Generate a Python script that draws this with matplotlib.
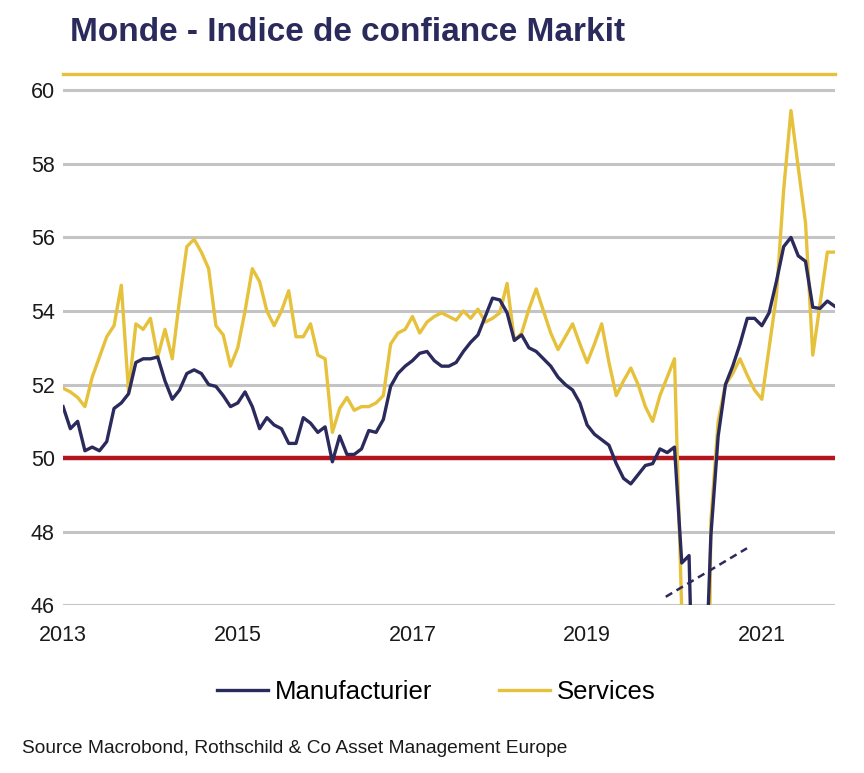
import matplotlib
matplotlib.use("Agg")
import matplotlib.pyplot as plt
import numpy as np

# monthly data, Jan 2013 -> Nov 2021
start_year = 2013

manufacturier = [
    51.4, 50.8, 51.0, 50.2, 50.3, 50.2, 50.45, 51.35, 51.5, 51.75, 52.6, 52.7,
    52.7, 52.75, 52.1, 51.6, 51.85, 52.3, 52.4, 52.3, 52.0, 51.95, 51.7, 51.4,
    51.5, 51.8, 51.4, 50.8, 51.1, 50.9, 50.8, 50.4, 50.4, 51.1, 50.95, 50.7,
    50.85, 49.9, 50.6, 50.1, 50.1, 50.25, 50.75, 50.7, 51.05, 51.95, 52.3, 52.5,
    52.65, 52.85, 52.9, 52.65, 52.5, 52.5, 52.6, 52.9, 53.15, 53.35, 53.85, 54.35,
    54.3, 53.95, 53.2, 53.35, 53.0, 52.9, 52.7, 52.5, 52.2, 52.0, 51.85, 51.5,
    50.9, 50.65, 50.5, 50.35, 49.85, 49.45, 49.3, 49.55, 49.8, 49.85, 50.25, 50.15,
    50.3, 47.15, 47.35, 39.6, 42.4, 47.9, 50.6, 52.0, 52.5, 53.1, 53.8, 53.8,
    53.6, 53.95, 54.8, 55.75, 56.0, 55.5, 55.35, 54.1, 54.07, 54.27, 54.13,
]

services = [
    51.9, 51.8, 51.65, 51.4, 52.2, 52.75, 53.3, 53.6, 54.7, 51.8, 53.65, 53.5,
    53.8, 52.75, 53.5, 52.7, 54.3, 55.75, 55.95, 55.6, 55.15, 53.6, 53.35, 52.5,
    53.0, 54.0, 55.15, 54.8, 54.0, 53.6, 54.0, 54.55, 53.3, 53.3, 53.65, 52.8,
    52.7, 50.7, 51.35, 51.65, 51.3, 51.4, 51.4, 51.5, 51.7, 53.1, 53.4, 53.5,
    53.85, 53.4, 53.7, 53.85, 53.95, 53.85, 53.75, 54.0, 53.8, 54.05, 53.7, 53.8,
    53.95, 54.75, 53.2, 53.4, 54.05, 54.6, 54.0, 53.4, 52.95, 53.3, 53.65, 53.1,
    52.6, 53.1, 53.65, 52.6, 51.7, 52.1, 52.45, 52.0, 51.4, 51.0, 51.7, 52.2,
    52.7, 45.8, 37.0, 24.0, 30.5, 48.3, 51.0, 52.0, 52.3, 52.7, 52.25, 51.85,
    51.6, 53.0, 54.4, 57.3, 59.45, 57.9, 56.4, 52.8, 54.2, 55.6, 55.6,
]

year_ticks = [2013, 2015, 2017, 2019, 2021]
y_ticks = [46, 48, 50, 52, 54, 56, 58, 60]

NAVY = "#2b2a5c"
GOLD = "#e6c13c"
RED = "#b3151c"
GRID = "#c4c4c4"

plt.rcParams["font.family"] = ["Liberation Sans", "DejaVu Sans"]

x = start_year + np.arange(len(manufacturier)) / 12.0

fig = plt.figure(figsize=(8.64, 7.73), dpi=100)
ax = fig.add_axes([0.073, 0.217, 0.893, 0.690])

for v in y_ticks:
    ax.axhline(v, color=GRID, lw=2.2, zorder=1)
ax.axhline(50, color=RED, lw=3.2, zorder=2)

ax.plot(x, manufacturier, color=NAVY, lw=2.4, zorder=4, label="Manufacturier")
ax.plot(x, services, color=GOLD, lw=2.4, zorder=3, label="Services")

# yellow rule above the plot
ax.axhline(60.43, color=GOLD, lw=2.4, zorder=3, clip_on=False)

# axis break marker
ax.plot([2019.9, 2020.83], [46.23, 47.55], color=NAVY, lw=1.8, ls=(0, (3, 2)), zorder=5)

ax.set_xlim(x[0], x[-1])
ax.set_ylim(46, 60.5)
ax.set_yticks(y_ticks)
ax.set_yticklabels([str(v) for v in y_ticks])
ax.set_xticks(year_ticks)
ax.set_xticklabels([str(v) for v in year_ticks])
ax.tick_params(axis="both", length=0, labelsize=15.5, colors="#1a1a1a")
ax.tick_params(axis="x", pad=14)
ax.tick_params(axis="y", pad=6)
for s in ax.spines.values():
    s.set_visible(False)

fig.text(0.081, 0.958, "Monde - Indice de confiance Markit", fontsize=24,
         fontweight="bold", color=NAVY, va="center", ha="left")

fig.legend(loc="center", bbox_to_anchor=(0.505, 0.105), ncol=2, frameon=False,
           fontsize=18.5, handlelength=2.0, handletextpad=0.25, columnspacing=2.6)

fig.text(0.026, 0.032, "Source Macrobond, Rothschild & Co Asset Management Europe",
         fontsize=13.8, color="#1a1a1a", va="center", ha="left")

fig.savefig("out.png", dpi=100)
